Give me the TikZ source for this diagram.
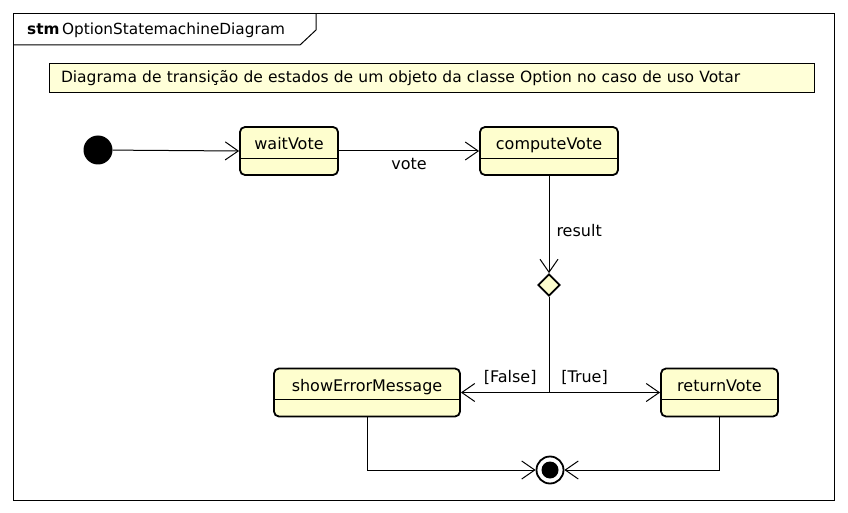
\documentclass[tikz,border=0pt]{standalone}
\usepackage{fontspec}
\setmainfont{DejaVu Sans}
\usetikzlibrary{shapes.geometric, calc, arrows.meta}
\definecolor{umlFill}{HTML}{FEFECE}
\definecolor{umlNote}{HTML}{FFFFD8}

\begin{document}
\begin{tikzpicture}[x=1pt, y=-1pt,
        st/.style={draw, line width=1.8pt, rounded corners=5pt, fill=umlFill, minimum height=48pt, inner sep=0pt, text height=12pt, text depth=14pt, font=\fontsize{16}{19}\selectfont},
        tr/.style={-{Straight Barb[length=13pt,width=18pt]}, line width=1pt},
        lbl/.style={font=\fontsize{16}{19}\selectfont, inner sep=0pt}
      ]
        \useasboundingbox (0,0) rectangle (848,513);
        % frame
        \draw[line width=1pt] (13,14) rectangle (834,500);
        \draw[line width=1pt] (13,45) -- (300,45) -- (316,30) -- (316,14);
        \node[lbl, anchor=west, font=\fontsize{15.3}{18}\selectfont] (title) at (27,30) {\textbf{stm}\,OptionStatemachineDiagram};
        \node[draw, line width=1pt, fill=umlNote, minimum width=765pt, minimum height=29pt, inner xsep=12pt, text width=741pt, align=left, font=\fontsize{15.5}{18}\selectfont] (note) at (431.5,78.5) {Diagrama de transição de estados de um objeto da classe Option no caso de uso Votar};
        % states
        \node[circle, fill=black, minimum size=29pt, inner sep=0pt] (init) at (98,150) {};
        \node[st, minimum width=98pt] (wait) at (289,151) {waitVote};
        \node[st, minimum width=138pt] (compute) at (549,151) {computeVote};
        \node[diamond, draw, line width=1.8pt, fill=umlFill, minimum width=22pt, minimum height=22pt, inner sep=0pt] (dec) at (549,285) {};
        \node[st, minimum width=186pt] (err) at (367,392.5) {showErrorMessage};
        \node[st, minimum width=117pt] (ret) at (719.5,392.5) {returnVote};
        \node[circle, draw, line width=1.8pt, fill=white, minimum size=27pt, inner sep=0pt] (fin) at (550,470) {};
        \fill (fin.center) circle[radius=8.5pt];
        \foreach \n in {wait, compute, err, ret}
          \draw[line width=1.2pt] ($(\n.north west)!0.646!(\n.south west)$) -- ($(\n.north east)!0.646!(\n.south east)$);
        % transitions
        \draw[tr] (init) -- (wait.west);
        \draw[tr] (wait) -- (compute) node[lbl, midway, below=7pt] (vote) {vote};
        \draw[tr] (compute) -- (dec.north) node[lbl, pos=0.56, right=7pt] (result) {result};
        \draw[tr] (dec.south) |- (err.east) node[lbl, pos=0.72, above=7pt] (false) {[False]};
        \draw[tr] (dec.south) |- (ret.west) node[lbl, pos=0.66, above=7pt] (true) {[True]};
        \draw[tr] (err.south) |- (fin.west);
        \draw[tr] (ret.south) |- (fin.east);
      \end{tikzpicture}
\end{document}
